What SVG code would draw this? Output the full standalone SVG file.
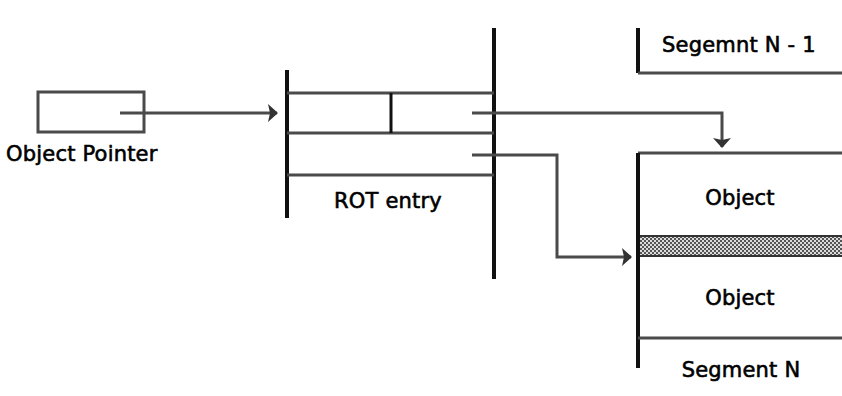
<svg xmlns="http://www.w3.org/2000/svg" width="842" height="396" viewBox="0 0 842 396">
<defs>
<style>
.h{stroke:#4a4a4a;stroke-width:3;fill:none}
.v{stroke:#111;stroke-width:4;fill:none}
.c{stroke:#4a4a4a;stroke-width:3;fill:none}
.t{font-family:"DejaVu Sans",sans-serif;font-size:21px;letter-spacing:0.2px;fill:#000;stroke:#000;stroke-width:0.6px}
</style>
<pattern id="dith" width="4" height="4" patternUnits="userSpaceOnUse">
<rect width="4" height="4" fill="#dcdcdc"/>
<rect width="2" height="2" fill="#555"/>
<rect x="2" y="2" width="2" height="2" fill="#555"/>
</pattern>
<marker id="ah" markerWidth="10" markerHeight="18" refX="9" refY="9" orient="auto" markerUnits="userSpaceOnUse">
<path d="M0,0 L10,9 L0,18 L2,9 Z" fill="#333"/>
</marker>
</defs>
<g id="object-pointer">
<rect x="38" y="92" width="106" height="40" class="h"/>
<text class="t" x="6" y="161">Object Pointer</text>
</g>
<g id="rot-entry">
<line x1="287" y1="70" x2="287" y2="218" class="v"/>
<line x1="494" y1="28" x2="494" y2="279" class="v"/>
<line x1="287" y1="93" x2="494" y2="93" class="h"/>
<line x1="287" y1="133" x2="494" y2="133" class="h"/>
<line x1="287" y1="175" x2="494" y2="175" class="h"/>
<line x1="391" y1="93" x2="391" y2="133" class="v" style="stroke-width:3"/>
<text class="t" x="388" y="208" text-anchor="middle">ROT entry</text>
</g>
<g id="segment-n-1">
<line x1="638" y1="28" x2="638" y2="73" class="v"/>
<line x1="638" y1="73" x2="842" y2="73" class="h"/>
<text class="t" x="662" y="52">Segemnt N - 1</text>
</g>
<g id="segment-n">
<line x1="638" y1="153" x2="842" y2="153" class="h"/>
<line x1="638" y1="153" x2="638" y2="368" class="v"/>
<rect x="640" y="235" width="202" height="22" fill="url(#dith)"/>
<line x1="640" y1="236" x2="842" y2="236" stroke="#333" stroke-width="2"/>
<line x1="640" y1="256" x2="842" y2="256" stroke="#333" stroke-width="2"/>
<line x1="638" y1="338" x2="842" y2="338" class="h"/>
<text class="t" x="740" y="205" text-anchor="middle">Object</text>
<text class="t" x="740" y="305" text-anchor="middle">Object</text>
<text class="t" x="741" y="377" text-anchor="middle">Segment N</text>
</g>
<g id="connectors">
<path d="M120,113 H277" class="c" marker-end="url(#ah)"/>
<path d="M472,113 H722 V147" class="c" marker-end="url(#ah)"/>
<path d="M472,155 H557 V257 H631" class="c" marker-end="url(#ah)"/>
</g>
</svg>
